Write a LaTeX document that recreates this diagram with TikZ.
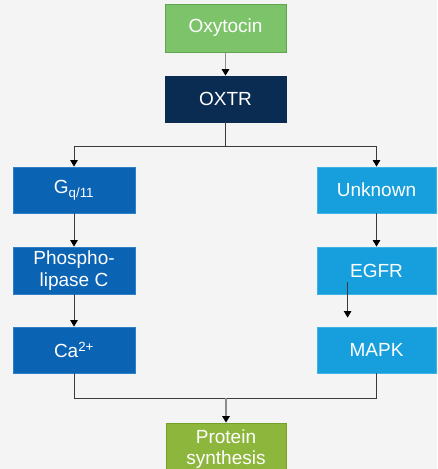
\documentclass[tikz,border=0pt]{standalone}
\usepackage{fontspec}
\setmainfont{Liberation Sans}
\usetikzlibrary{arrows.meta}
\definecolor{bgcol}{HTML}{F4F4F4}
\definecolor{hormone}{HTML}{7CC36A}
\definecolor{hormoneedge}{HTML}{5FA64E}
\definecolor{receptor}{HTML}{0B2C52}
\definecolor{leftpath}{HTML}{0A63B3}
\definecolor{leftedge}{HTML}{2F80C8}
\definecolor{rightpath}{HTML}{169FDC}
\definecolor{rightedge}{HTML}{3DB3E6}
\definecolor{outcome}{HTML}{8CB63C}
\definecolor{outcomeedge}{HTML}{74A02A}
\definecolor{linkdark}{HTML}{3A3A3A}
\definecolor{linklight}{HTML}{8C8C8C}
\tikzset{
  box/.style={rectangle, text=white, align=center, inner sep=0pt,
    font=\fontsize{19}{23}\selectfont, line width=0.8pt},
  hormonebox/.style={box, fill=hormone, draw=hormoneedge, minimum width=121pt, minimum height=48pt},
  receptorbox/.style={box, fill=receptor, draw=receptor, minimum width=121pt, minimum height=46pt},
  leftbox/.style={box, fill=leftpath, draw=leftedge, minimum width=122pt, minimum height=46pt},
  rightbox/.style={box, fill=rightpath, draw=rightedge, minimum width=119pt, minimum height=46pt},
  outcomebox/.style={box, fill=outcome, draw=outcomeedge, minimum width=120pt, minimum height=52pt},
  link/.style={draw=linkdark, line width=0.9pt},
  softlink/.style={draw=linklight, line width=1.5pt},
  tip/.style={-{Triangle[width=7.5pt,length=6.5pt,fill=black,color=black]}}
}
\begin{document}
\begin{tikzpicture}[x=1pt,y=-1pt]
  \fill[bgcol] (0,0) rectangle (437,469);
  \useasboundingbox (0,0) rectangle (437,469);

  % receptor activation
  \node[hormonebox] (oxy) at (225.5,28) {Oxytocin};
  \node[receptorbox] (oxtr) at (225.5,99) {OXTR};

  % G-protein branch
  \node[leftbox] (gq) at (74,190) {G\textsubscript{q/11}};
  \node[leftbox, minimum height=47pt] (plc) at (74,270.5) {Phospho-\\[-1pt]lipase C};
  \node[leftbox] (ca) at (74,350) {Ca\textsuperscript{2+}};

  % transactivation branch
  \node[rightbox] (unk) at (376.5,190) {Unknown};
  \node[rightbox, minimum height=47pt] (egfr) at (376.5,270.5) {EGFR};
  \node[rightbox] (mapk) at (376.5,350) {MAPK};

  % outcome
  \node[outcomebox] (prot) at (226,449) {Protein\\[-2pt]synthesis};

  % connectors
  \draw[softlink, tip] (oxy.south) -- (oxtr.north);

  \coordinate (split) at (225.5,146);
  \draw[link] (oxtr.south) -- (split);
  \draw[link, tip] (split) -| (gq.north);
  \draw[link, tip] (split) -| (unk.north);

  \draw[link, tip] (gq.south) -- (plc.north);
  \draw[link, tip] (plc.south) -- (ca.north);
  \draw[link, tip] (unk.south) -- (egfr.north);

  \coordinate (egfrtail) at ([xshift=31pt,yshift=12pt]egfr.south west);
  \coordinate (egfrhead) at ([xshift=31pt,yshift=9pt]mapk.north west);
  \draw[link, tip] (egfrtail) -- (egfrhead);

  \coordinate (join) at (226,398);
  \draw[link] (ca.south) |- (join);
  \draw[link] (mapk.south) |- (join);
  \draw[softlink, tip] (join) -- (prot.north);
\end{tikzpicture}
\end{document}
